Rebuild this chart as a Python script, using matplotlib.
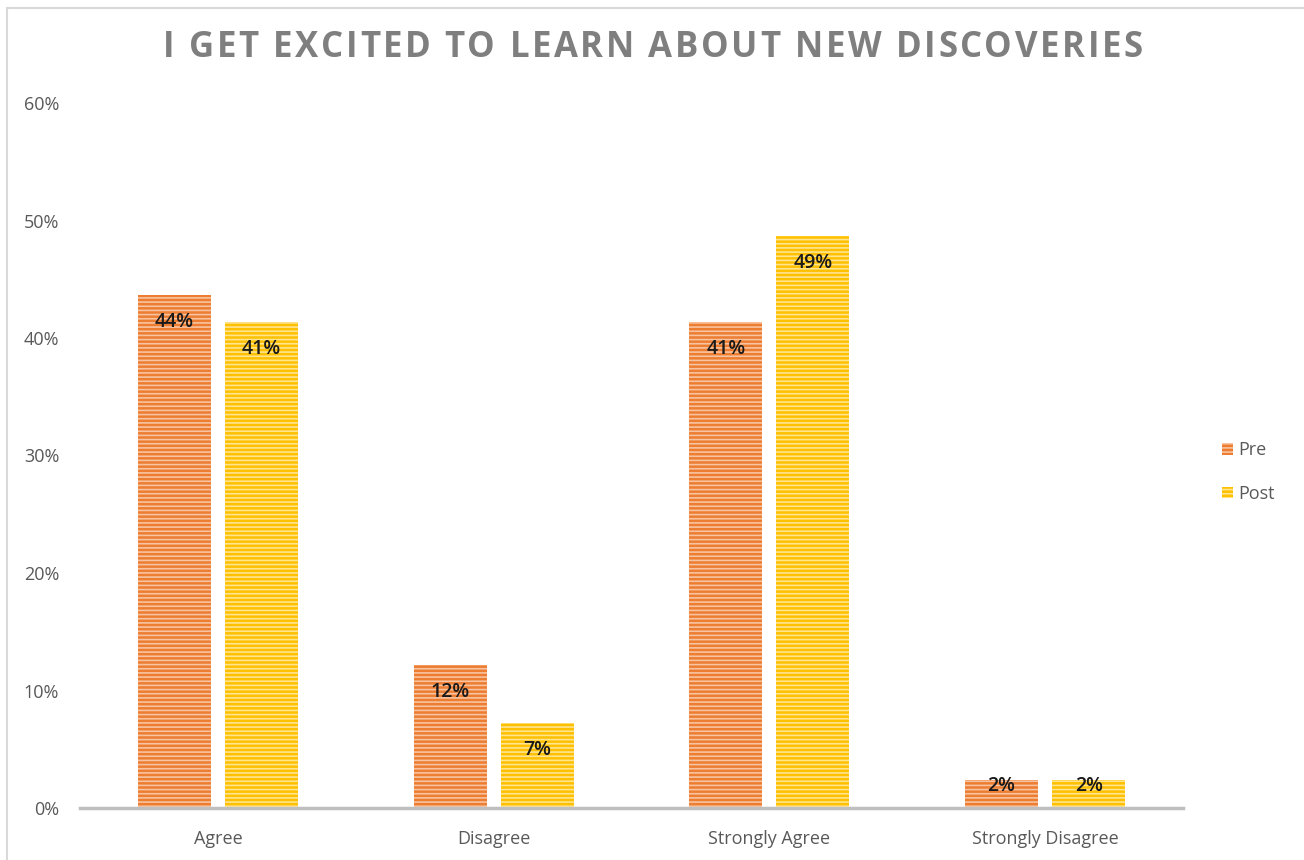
import matplotlib
matplotlib.use("Agg")
import matplotlib.pyplot as plt
from matplotlib.patches import Rectangle
from matplotlib.ticker import PercentFormatter
from matplotlib.font_manager import FontProperties, findfont, get_font

categories = ["Agree", "Disagree", "Strongly Agree", "Strongly Disagree"]
pre = [0.437, 0.122, 0.414, 0.024]
post = [0.414, 0.072, 0.487, 0.024]
series_names = ["Pre", "Post"]
yticks = [0.0, 0.1, 0.2, 0.3, 0.4, 0.5, 0.6]
title = "I GET EXCITED TO LEARN ABOUT NEW DISCOVERIES"

pre_color = "#ED7D31"
post_color = "#FFC000"
pre_stripe = "#F8C3A0"
post_stripe = "#FFE58F"
text_gray = "#595959"

W, H = 1304, 860
DPI = 100
fig = plt.figure(figsize=(W / DPI, H / DPI), dpi=DPI)
plt.rcParams["hatch.linewidth"] = 1.2

# chart frame
fig.patches.append(Rectangle((7 / W, -0.01), 1.1, 1 - 8 / H + 0.01,
                             transform=fig.transFigure, facecolor="none",
                             edgecolor="#D9D9D9", linewidth=1.5))

ax = fig.add_axes([80 / W, 52 / H, (1183 - 80) / W, (757 - 52) / H])
x = list(range(len(categories)))
width = 0.265
offset = 0.158

def striped_bars(xs, vals, color, stripe, label):
    bars = ax.bar(xs, vals, width, color=color, linewidth=0, label=label, zorder=2)
    ax.bar(xs, vals, width, facecolor="none", edgecolor=stripe, hatch="----",
           linewidth=0, zorder=3)
    return bars

b1 = striped_bars([i - offset for i in x], pre, pre_color, pre_stripe, series_names[0])
b2 = striped_bars([i + offset for i in x], post, post_color, post_stripe, series_names[1])

ax.set_xlim(-0.5, len(categories) - 0.5)
ax.set_ylim(0, 0.6)

# value labels inside the bar ends, kept above the baseline for short bars
px_per_unit = (757 - 52) / 0.6
for bars, vals in ((b1, pre), (b2, post)):
    for rect, v in zip(bars, vals):
        bar_px = v * px_per_unit
        center_px = max(bar_px - 27, 22)
        ax.annotate(f"{round(v * 100)}%",
                    (rect.get_x() + rect.get_width() / 2, 0),
                    xytext=(0, center_px), textcoords="offset pixels",
                    ha="center", va="center", fontsize=14,
                    fontfamily="Open Sans", fontweight="semibold",
                    color="#1a1a1a", zorder=4)

ax.set_yticks(yticks)
ax.yaxis.set_major_formatter(PercentFormatter(1.0, decimals=0))
ax.set_xticks(x)
ax.set_xticklabels(categories)
for side in ("top", "right", "left"):
    ax.spines[side].set_visible(False)
ax.spines["bottom"].set_color("#BFBFBF")
ax.spines["bottom"].set_linewidth(2.5)
ax.spines["bottom"].set_zorder(5)
ax.tick_params(axis="both", length=0, colors=text_gray, labelsize=13)
ax.tick_params(axis="y", pad=15)
ax.tick_params(axis="x", pad=16)
for lbl in ax.get_xticklabels() + ax.get_yticklabels():
    lbl.set_fontfamily("Open Sans")

# letter-spaced title, placed glyph by glyph
tprop = FontProperties(family="Open Sans", weight="bold", size=25)
tfont = get_font(findfont(tprop))
tfont.set_size(25, DPI)
advances = []
for ch in title:
    g = tfont.load_char(ord(ch))
    advances.append(g.linearHoriAdvance / 65536)
left_px, right_px = 163, 1143
spacing = (right_px - left_px - sum(advances)) / (len(title) - 1)
cx = left_px
for ch, adv in zip(title, advances):
    if ch != " ":
        fig.text(cx / W, 1 - 48 / H, ch, ha="left", va="center",
                 fontproperties=tprop, color="#7F7F7F")
    cx += adv + spacing

handles = [Rectangle((0, 0), 1, 1, facecolor=pre_color, edgecolor=pre_stripe,
                     hatch="----", linewidth=0),
           Rectangle((0, 0), 1, 1, facecolor=post_color, edgecolor=post_stripe,
                     hatch="----", linewidth=0)]
leg = fig.legend(handles, series_names, loc="center left",
                 bbox_to_anchor=(1206 / W, 1 - 472 / H), frameon=False,
                 handlelength=0.6, handleheight=0.6, handletextpad=0.3,
                 labelspacing=1.4, prop={"family": "Open Sans", "size": 13})
for t in leg.get_texts():
    t.set_color(text_gray)

fig.savefig("out.png", dpi=DPI)
